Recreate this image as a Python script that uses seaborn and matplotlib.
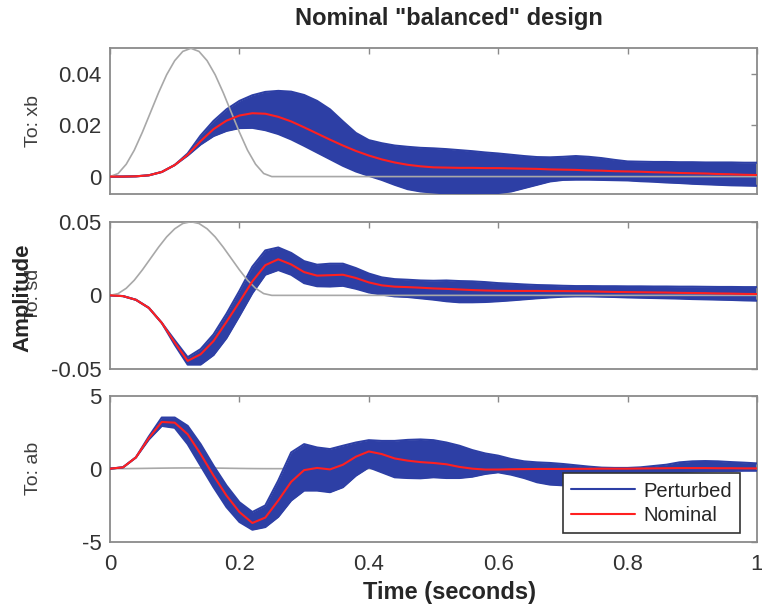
import matplotlib
matplotlib.use("Agg")
import matplotlib.pyplot as plt
import seaborn as sns

# time samples (s)
t = [0.00, 0.02, 0.04, 0.06, 0.08, 0.10, 0.12, 0.14, 0.16, 0.18,
     0.20, 0.22, 0.24, 0.26, 0.28, 0.30, 0.32, 0.34, 0.36, 0.38,
     0.40, 0.42, 0.44, 0.46, 0.48, 0.50, 0.52, 0.54, 0.56, 0.58,
     0.60, 0.62, 0.64, 0.66, 0.68, 0.70, 0.72, 0.74, 0.76, 0.78,
     0.80, 0.82, 0.84, 0.86, 0.88, 0.90, 0.92, 0.94, 0.96, 0.98, 1.00]

# road bump input (gray)
bump_t = [0, 0.0125, 0.025, 0.0375, 0.05, 0.0625, 0.075, 0.0875, 0.1, 0.1125, 0.125,
          0.1375, 0.15, 0.1625, 0.175, 0.1875, 0.2, 0.2125, 0.225, 0.2375, 0.25, 1.0]
bump = [0, 0.0012, 0.0048, 0.0103, 0.0173, 0.0250, 0.0327, 0.0397, 0.0452, 0.0488, 0.0500,
        0.0488, 0.0452, 0.0397, 0.0327, 0.0250, 0.0173, 0.0103, 0.0048, 0.0012, 0, 0]

# To: xb
xb_nom = [0, 0, 0.0001, 0.0005, 0.0018, 0.0045, 0.0085, 0.0138, 0.0185, 0.0218,
          0.0238, 0.0247, 0.0245, 0.0233, 0.0215, 0.0192, 0.0168, 0.0144, 0.0121, 0.0100,
          0.0082, 0.0067, 0.0055, 0.0046, 0.0040, 0.0036, 0.0035, 0.0034, 0.0034, 0.0033,
          0.0033, 0.0032, 0.0031, 0.0030, 0.0028, 0.0027, 0.0026, 0.0024, 0.0023, 0.0021,
          0.0020, 0.0019, 0.0017, 0.0016, 0.0014, 0.0013, 0.0012, 0.0010, 0.0009, 0.0007, 0.0006]
xb_hi = [0, 0, 0.0001, 0.0005, 0.0018, 0.0045, 0.0090, 0.0160, 0.0217, 0.0262,
         0.0295, 0.0317, 0.0330, 0.0334, 0.0331, 0.0318, 0.0295, 0.0262, 0.0215, 0.0170,
         0.0142, 0.0130, 0.0121, 0.0116, 0.0112, 0.0110, 0.0107, 0.0103, 0.0099, 0.0094,
         0.0090, 0.0085, 0.0080, 0.0076, 0.0075, 0.0077, 0.0080, 0.0077, 0.0072, 0.0065,
         0.0059, 0.0058, 0.0057, 0.0057, 0.0056, 0.0056, 0.0055, 0.0055, 0.0055, 0.0054, 0.0054]
xb_lo = [0, 0, 0.0001, 0.0005, 0.0018, 0.0045, 0.0082, 0.0125, 0.0158, 0.0178,
         0.0189, 0.0190, 0.0181, 0.0166, 0.0145, 0.0120, 0.0094, 0.0068, 0.0042, 0.0020,
         0.0003, -0.0013, -0.0032, -0.0049, -0.0058, -0.0062, -0.0066, -0.0067, -0.0067, -0.0066,
         -0.0064, -0.0058, -0.0045, -0.0032, -0.0019, -0.0013, -0.0012, -0.0012, -0.0013, -0.0014,
         -0.0015, -0.0018, -0.0020, -0.0023, -0.0025, -0.0028, -0.0030, -0.0032, -0.0034, -0.0035, -0.0036]

# To: sd
sd_nom = [0, -0.0005, -0.0030, -0.0085, -0.0187, -0.0320, -0.0445, -0.0400, -0.0310, -0.0180,
          -0.0045, 0.0095, 0.0205, 0.0245, 0.0210, 0.0158, 0.0134, 0.0137, 0.0140, 0.0118,
          0.0088, 0.0068, 0.0059, 0.0056, 0.0052, 0.0047, 0.0044, 0.0040, 0.0036, 0.0033,
          0.0031, 0.0030, 0.0030, 0.0030, 0.0029, 0.0029, 0.0028, 0.0027, 0.0025, 0.0023,
          0.0022, 0.0021, 0.0020, 0.0019, 0.0017, 0.0016, 0.0015, 0.0013, 0.0012, 0.0010, 0.0009]
sd_hi = [0, -0.0005, -0.0030, -0.0085, -0.0187, -0.0305, -0.0420, -0.0365, -0.0265, -0.0125,
         0.0030, 0.0195, 0.0305, 0.0325, 0.0288, 0.0232, 0.0208, 0.0215, 0.0215, 0.0185,
         0.0148, 0.0122, 0.0110, 0.0106, 0.0101, 0.0099, 0.0101, 0.0097, 0.0095, 0.0090,
         0.0083, 0.0079, 0.0074, 0.0070, 0.0068, 0.0065, 0.0063, 0.0063, 0.0062, 0.0062,
         0.0061, 0.0061, 0.0060, 0.0060, 0.0059, 0.0059, 0.0058, 0.0057, 0.0057, 0.0056, 0.0056]
sd_lo = [0, -0.0005, -0.0030, -0.0085, -0.0187, -0.0335, -0.0470, -0.0470, -0.0405, -0.0290,
         -0.0140, 0.0015, 0.0140, 0.0172, 0.0140, 0.0083, 0.0062, 0.0060, 0.0065, 0.0045,
         0.0020, 0.0005, -0.0007, -0.0011, -0.0020, -0.0029, -0.0040, -0.0047, -0.0047, -0.0045,
         -0.0040, -0.0034, -0.0027, -0.0020, -0.0014, -0.0009, -0.0007, -0.0007, -0.0009, -0.0011,
         -0.0014, -0.0016, -0.0018, -0.0020, -0.0022, -0.0025, -0.0027, -0.0029, -0.0031, -0.0034, -0.0036]

# To: ab
ab_nom = [0, 0.09, 0.77, 2.10, 3.20, 3.15, 2.36, 1.00, -0.48, -1.84,
          -2.97, -3.72, -3.35, -2.18, -0.90, -0.10, 0.05, -0.05, 0.27, 0.82,
          1.18, 1.00, 0.70, 0.55, 0.45, 0.39, 0.30, 0.12, 0.00, -0.06,
          -0.06, -0.04, -0.03, -0.02, -0.02, -0.02, -0.01, -0.01, 0.00, 0.00,
          0.00, 0.01, 0.02, 0.03, 0.04, 0.04, 0.04, 0.03, 0.03, 0.02, 0.02]
ab_hi = [0, 0.09, 0.77, 2.20, 3.50, 3.50, 2.93, 1.68, 0.20, -1.16,
         -2.30, -2.97, -2.52, -0.82, 1.11, 1.68, 1.45, 1.34, 1.57, 1.79,
         1.95, 1.90, 1.90, 1.97, 2.00, 1.95, 1.79, 1.57, 1.27, 1.04,
         0.89, 0.66, 0.50, 0.43, 0.39, 0.32, 0.23, 0.14, 0.07, 0.05,
         0.05, 0.09, 0.18, 0.27, 0.43, 0.50, 0.52, 0.50, 0.45, 0.41, 0.36]
ab_lo = [0, 0.09, 0.77, 2.00, 2.93, 2.80, 1.68, 0.20, -1.27, -2.63,
         -3.65, -4.18, -4.00, -3.30, -2.18, -1.50, -1.50, -1.61, -1.27, -0.48,
         0.09, -0.25, -0.59, -0.64, -0.66, -0.59, -0.64, -0.64, -0.55, -0.36,
         -0.25, -0.41, -0.64, -0.93, -1.09, -1.14, -1.14, -1.09, -1.00, -0.70,
         -0.41, -0.32, -0.25, -0.23, -0.23, -0.20, -0.18, -0.16, -0.16, -0.14, -0.14]

outputs = ["To: xb", "To: sd", "To: ab"]
ylims = [(-0.0068, 0.05), (-0.05, 0.05), (-5, 5)]
yticks = [[0, 0.02, 0.04], [-0.05, 0, 0.05], [-5, 0, 5]]
yticklabels = [["0", "0.02", "0.04"], ["-0.05", "0", "0.05"], ["-5", "0", "5"]]
xticks = [0, 0.2, 0.4, 0.6, 0.8, 1]
xticklabels = ["0", "0.2", "0.4", "0.6", "0.8", "1"]

BLUE = "#2d3fa5"
RED = "#ff2020"
GRAY = "#a8a8a8"
EDGE = "#8a8a8a"

sns.set_style("white")
plt.rcParams["font.family"] = ["Liberation Sans", "DejaVu Sans"]

fig = plt.figure(figsize=(7.62, 6.14), dpi=100)
boxes = [[0.1444, 0.6840, 0.849, 0.2373],
         [0.1444, 0.3990, 0.849, 0.2399],
         [0.1444, 0.1178, 0.849, 0.2378]]

series = [(xb_nom, xb_hi, xb_lo), (sd_nom, sd_hi, sd_lo), (ab_nom, ab_hi, ab_lo)]
gray_z = [4, 4, 1]

for i, (nom, hi, lo) in enumerate(series):
    ax = fig.add_axes(boxes[i])
    sns.lineplot(x=bump_t, y=bump, ax=ax, color=GRAY, linewidth=1.2, zorder=gray_z[i])
    ax.fill_between(t, lo, hi, color=BLUE, linewidth=0, zorder=2)
    lab = "Perturbed" if i == 2 else None
    sns.lineplot(x=t, y=hi, ax=ax, color=BLUE, linewidth=1.5, zorder=3, label=lab)
    sns.lineplot(x=t, y=lo, ax=ax, color=BLUE, linewidth=1.5, zorder=3)
    sns.lineplot(x=t, y=nom, ax=ax, color=RED, linewidth=1.5, zorder=5,
                 label="Nominal" if i == 2 else None)

    ax.set_xlim(0, 1)
    ax.set_ylim(*ylims[i])
    ax.set_xticks(xticks)
    ax.set_yticks(yticks[i])
    ax.set_yticklabels(yticklabels[i])
    if i == 2:
        ax.set_xticklabels(xticklabels)
    else:
        ax.set_xticklabels([])
    ax.tick_params(direction="in", top=True, right=True, length=4, width=1,
                   color=EDGE, labelsize=16, labelcolor="#333333")
    ax.tick_params(axis="x", pad=9)
    ax.tick_params(axis="y", pad=6)
    for s in ax.spines.values():
        s.set_color(EDGE)
        s.set_linewidth(1.3)
    ax.set_ylabel(outputs[i], fontsize=14, color="#404040")
    ax.yaxis.set_label_coords(-0.105, 0.5)

    if i == 2:
        leg = ax.legend(loc="lower right", bbox_to_anchor=(0.974, 0.062), borderaxespad=0,
                        fontsize=14.5, frameon=True, fancybox=False, framealpha=1,
                        edgecolor="#333333", handlelength=3.2, handletextpad=0.4,
                        labelspacing=0.25, borderpad=0.4)
        leg.get_frame().set_linewidth(1.2)
    else:
        leg = ax.get_legend()
        if leg is not None:
            leg.remove()

fig.text(449 / 762, 1 - 18 / 614, 'Nominal "balanced" design', ha="center", va="center",
         fontsize=17, fontweight="bold")
fig.text(450 / 762, 1 - 593 / 614, "Time (seconds)", ha="center", va="center",
         fontsize=17, fontweight="bold")
fig.text(23 / 762, 1 - 298 / 614, "Amplitude", ha="center", va="center", rotation=90,
         fontsize=16, fontweight="bold")

fig.savefig("out.png", dpi=100)
